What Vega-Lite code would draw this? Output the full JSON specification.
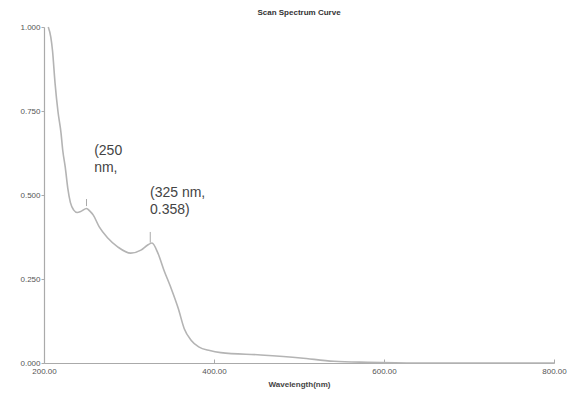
{
  "$schema": "https://vega.github.io/schema/vega-lite/v6.json",
  "autosize": "none",
  "width": 510,
  "height": 336,
  "padding": {"left": 44, "top": 27, "right": 24, "bottom": 34},
  "background": "white",
  "title": {"text": "Scan Spectrum Curve", "fontSize": 8, "fontWeight": "bold", "font": "Liberation Sans", "color": "#333", "anchor": "middle", "offset": 6},
  "config": {"view": {"stroke": null}},
  "datasets": {
    "curve": [
      {"w": 205, "a": 1.0},
      {"w": 208, "a": 0.97},
      {"w": 210, "a": 0.93},
      {"w": 213, "a": 0.833},
      {"w": 216.5, "a": 0.747},
      {"w": 220, "a": 0.685},
      {"w": 222, "a": 0.634},
      {"w": 225, "a": 0.583},
      {"w": 228, "a": 0.52},
      {"w": 231, "a": 0.478},
      {"w": 235, "a": 0.455},
      {"w": 239, "a": 0.448},
      {"w": 244, "a": 0.452},
      {"w": 250, "a": 0.46},
      {"w": 254, "a": 0.452},
      {"w": 258, "a": 0.44},
      {"w": 265, "a": 0.405},
      {"w": 275, "a": 0.372},
      {"w": 287, "a": 0.345},
      {"w": 302, "a": 0.327},
      {"w": 314, "a": 0.336},
      {"w": 322, "a": 0.351},
      {"w": 327, "a": 0.357},
      {"w": 334, "a": 0.327},
      {"w": 341, "a": 0.277},
      {"w": 349, "a": 0.226},
      {"w": 358, "a": 0.162},
      {"w": 365, "a": 0.102},
      {"w": 373, "a": 0.068},
      {"w": 382, "a": 0.048},
      {"w": 395, "a": 0.037},
      {"w": 408, "a": 0.031},
      {"w": 455, "a": 0.024},
      {"w": 502, "a": 0.015},
      {"w": 541, "a": 0.005},
      {"w": 581, "a": 0.002},
      {"w": 640, "a": 0.0},
      {"w": 800, "a": 0.0}
    ],
    "marks": [
      {"w": 250, "a1": 0.467, "a2": 0.488},
      {"w": 325, "a1": 0.358, "a2": 0.39}
    ],
    "labels": [
      {"w": 259, "a": 0.652, "t": "(250\nnm,"},
      {"w": 324.7, "a": 0.527, "t": "(325 nm,\n0.358)"}
    ]
  },
  "layer": [
    {
      "data": {"name": "curve"},
      "mark": {"type": "line", "color": "#b4b4b4", "strokeWidth": 1.6, "interpolate": "monotone"},
      "encoding": {
        "x": {"field": "w", "type": "quantitative", "scale": {"domain": [200, 800], "nice": false},
          "axis": {"title": "Wavelength(nm)", "titleFontSize": 8, "titleFont": "Liberation Sans", "titleFontWeight": "bold", "titleColor": "#444", "titlePadding": 5,
            "values": [200, 400, 600, 800], "format": ".2f", "labelFontSize": 8, "labelFont": "Liberation Sans", "labelColor": "#555",
            "domainColor": "#aaa", "domainWidth": 1.2, "tickColor": "#aaa", "tickSize": -4, "labelPadding": 8, "grid": false, "labelFlush": false}},
        "y": {"field": "a", "type": "quantitative", "scale": {"domain": [0, 1], "nice": false},
          "axis": {"title": null, "values": [0, 0.25, 0.5, 0.75, 1], "format": ".3f", "labelFontSize": 8, "labelFont": "Liberation Sans", "labelColor": "#555",
            "domainColor": "#aaa", "domainWidth": 1.2, "tickColor": "#aaa", "tickSize": 3, "labelPadding": 1, "grid": false}}
      }
    },
    {
      "data": {"name": "marks"},
      "mark": {"type": "rule", "color": "#aaa", "strokeWidth": 1},
      "encoding": {
        "x": {"field": "w", "type": "quantitative"},
        "y": {"field": "a1", "type": "quantitative"},
        "y2": {"field": "a2"}
      }
    },
    {
      "data": {"name": "labels"},
      "mark": {"type": "text", "align": "left", "baseline": "top", "fontSize": 14, "font": "Liberation Sans", "color": "#444", "lineBreak": "\n", "lineHeight": 17},
      "encoding": {
        "x": {"field": "w", "type": "quantitative"},
        "y": {"field": "a", "type": "quantitative"},
        "text": {"field": "t"}
      }
    }
  ]
}
